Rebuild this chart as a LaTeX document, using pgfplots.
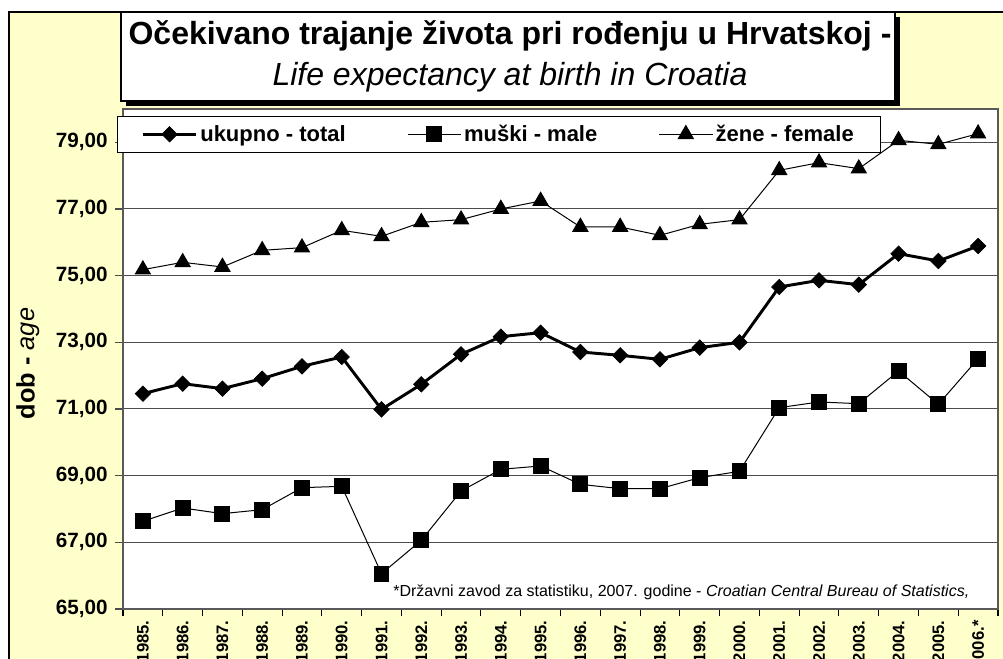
\documentclass[border=0pt]{standalone}
\usepackage{fontspec}
\setmainfont{Liberation Sans}
\usepackage{pgfplots}
\usepackage{pgfplotstable}
\pgfplotsset{compat=1.18}
\definecolor{bgyellow}{RGB}{255,255,204}

\pgfplotstableread{
x total male female
0 71.46 67.63 75.18
1 71.76 68.03 75.40
2 71.61 67.86 75.26
3 71.91 67.98 75.76
4 72.28 68.64 75.84
5 72.56 68.68 76.36
6 70.99 66.06 76.18
7 71.74 67.06 76.60
8 72.64 68.54 76.68
9 73.17 69.19 77.00
10 73.29 69.29 77.24
11 72.71 68.74 76.46
12 72.61 68.61 76.46
13 72.49 68.61 76.21
14 72.84 68.94 76.54
15 73.00 69.13 76.68
16 74.66 71.04 78.16
17 74.86 71.21 78.39
18 74.73 71.16 78.21
19 75.66 72.14 79.06
20 75.44 71.14 78.94
21 75.89 72.51 79.26
}\data

\begin{document}
\begin{tikzpicture}[x=0.75pt,y=0.75pt]
\path[use as bounding box] (0,0) rectangle (1003,659);
\fill[white] (0,0) rectangle (1003,659);
\begin{scope}
\clip (0,0) rectangle (1003,659);
\fill[bgyellow] (9,-20) rectangle (1020,647);
\draw[line width=2pt] (9,-20) rectangle (1020,647);
\end{scope}
% title box
\fill[black] (126,553) rectangle (900,642);
\filldraw[fill=white, draw=black, line width=0.8pt] (121,558) rectangle (895,647);
\node[font=\fontsize{24}{28}\selectfont\bfseries] at (510,623) {Očekivano trajanje života pri rođenju u Hrvatskoj -};
\node[font=\fontsize{24}{28}\selectfont\itshape] at (510,582) {Life expectancy at birth in Croatia};

\begin{axis}[
  at={(92.25pt,37.5pt)}, anchor=south west,
  scale only axis, width=656.25pt, height=375pt,
  xmin=-0.5, xmax=21.5, ymin=65, ymax=80,
  axis background/.style={fill=white},
  axis line style={black!65, line width=0.8pt},
  xtick={0,...,21},
  xticklabels={1985.,1986.,1987.,1988.,1989.,1990.,1991.,1992.,1993.,1994.,1995.,1996.,1997.,1998.,1999.,2000.,2001.,2002.,2003.,2004.,2005.,2006.*},
  minor xtick={-0.5,0.5,...,21.5},
  major x tick style={draw=none},
  minor x tick style={draw=black, line width=0.8pt},
  xtick pos=bottom, ytick pos=left,
  tick align=outside,
  minor tick length=5.5pt,
  major tick length=6pt,
  ytick={65,67,...,79},
  yticklabels={{65,00},{67,00},{69,00},{71,00},{73,00},{75,00},{77,00},{79,00}},
  ytick style={draw=black!70, line width=0.8pt},
  yticklabel style={font=\fontsize{15.5}{18}\selectfont\bfseries, xshift=-2pt},
  xticklabel style={rotate=90, anchor=east, font=\fontsize{12.5}{15}\selectfont\bfseries, xshift=1pt},
  ymajorgrids,
  major grid style={black!70, line width=0.75pt},
  ylabel={\textbf{dob -} \textit{age}},
  ylabel style={at={(axis description cs:-0.1086,0.491)}, anchor=center, font=\fontsize{19}{22}\selectfont},
  legend columns=3,
  legend cell align=left,
  legend style={at={(axis description cs:-0.00686,0.986)}, anchor=north west,
    draw=black, fill=white, line width=0.6pt,
    font=\fontsize{16.5}{19}\selectfont\bfseries,
    inner xsep=18pt, inner ysep=4.5pt,
    /tikz/every even column/.append style={column sep=44pt}},
  legend image code/.code={
    \draw[mark repeat=2, mark phase=2, #1] plot coordinates {(0pt,0pt) (20pt,0pt) (40pt,0pt)};
  },
]
\addplot[black, line width=2.2pt, mark=square*, mark size=4.1pt, mark options={rotate=45, solid, line width=0.5pt}] table[x=x, y=total] {\data};
\addlegendentry{ukupno - total}
\addplot[black, line width=0.75pt, mark=square*, mark size=5.6pt, mark options={solid}] table[x=x, y=male] {\data};
\addlegendentry{muški - male}
\addplot[black, line width=0.75pt, mark=triangle*, mark size=6.5pt, mark options={solid}] table[x=x, y=female] {\data};
\addlegendentry{žene - female}
\node[anchor=west, font=\fontsize{12}{14}\selectfont, inner sep=0pt] at (axis description cs:0.3086,0.034) {*Državni zavod za statistiku, 2007. godine - \textit{Croatian Central Bureau of Statistics,}};
\end{axis}
\end{tikzpicture}
\end{document}
